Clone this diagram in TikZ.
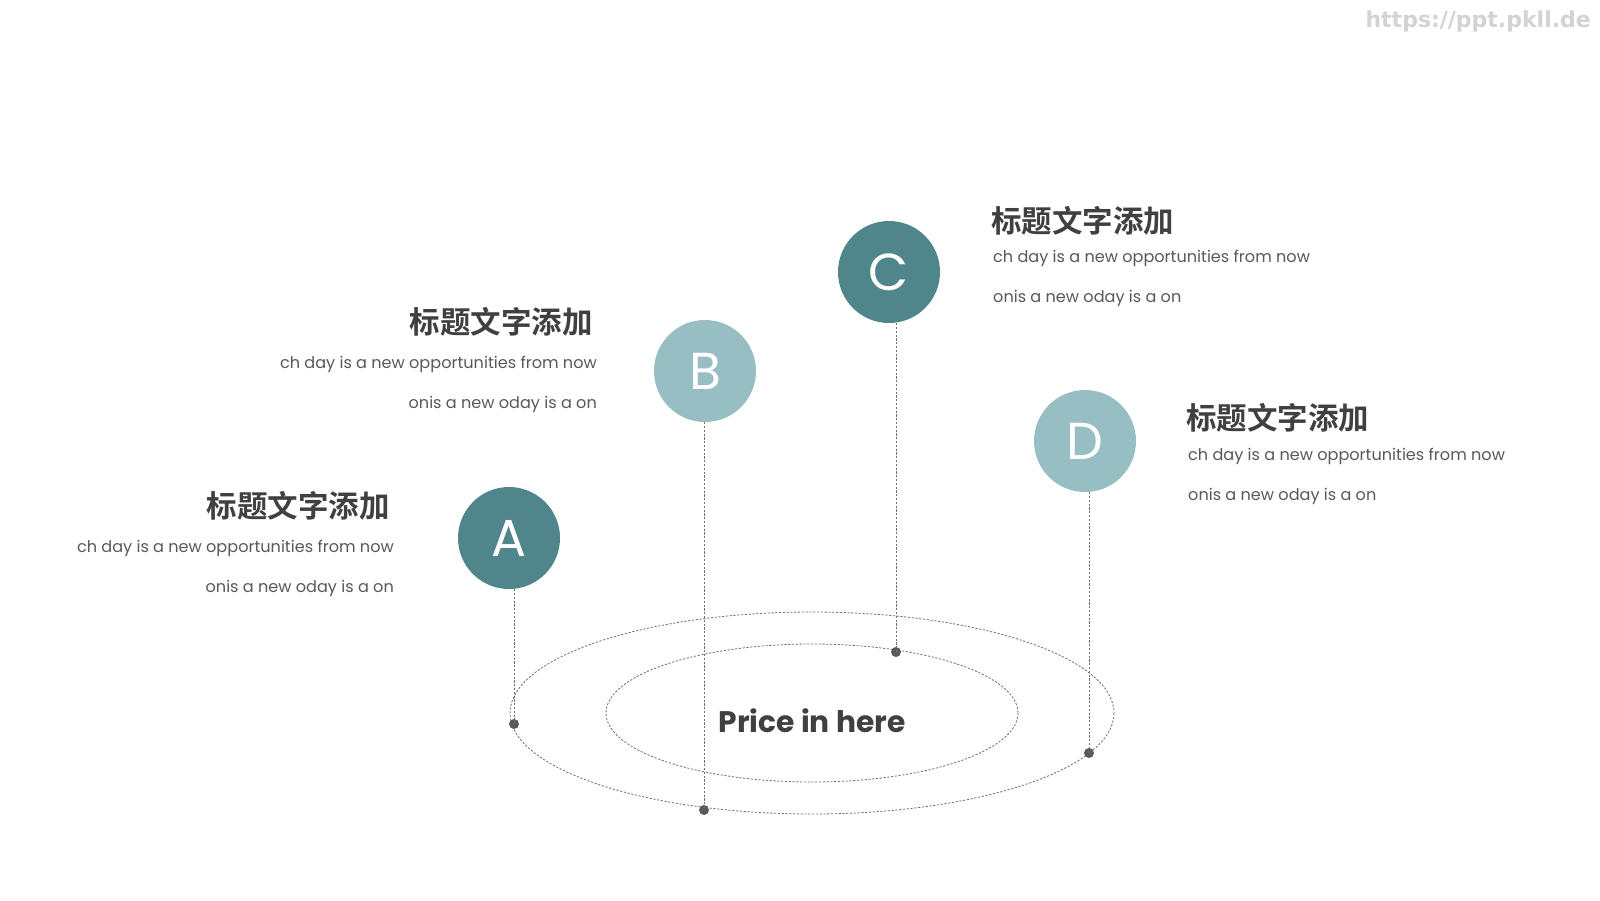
\documentclass[tikz,border=0pt]{standalone}
\usepackage{fontspec}
\setmainfont{Poppins}
\newfontfamily\cjk{Noto Sans CJK SC}[BoldFont=* Bold]
\newfontfamily\wmfont{DejaVu Sans}
\definecolor{tealdark}{HTML}{50868B}
\definecolor{teallight}{HTML}{97BFC3}
\definecolor{txt}{HTML}{404040}
\definecolor{bodytxt}{HTML}{595959}
\definecolor{guide}{HTML}{707070}
\definecolor{dotc}{HTML}{5A5A5A}
\definecolor{wm}{HTML}{D3D3D3}
\begin{document}
\begin{tikzpicture}[x=1pt,y=-1pt,
  bubble/.style={circle,minimum size=102pt,inner sep=0pt,text=white,font=\fontsize{52}{52}\selectfont},
  titletxt/.style={inner sep=0pt,text=txt,font=\cjk\bfseries\fontsize{30.5}{32}\selectfont},
  bodytext/.style={inner sep=0pt,text=bodytxt,font=\fontsize{16.1}{18}\selectfont},
  guideline/.style={draw=guide,line width=0.8pt,dash pattern=on 2.2pt off 1.6pt},
  pin/.style={circle,fill=dotc,minimum size=10pt,inner sep=0pt}]
\useasboundingbox (0,0) rectangle (1600,900);
\fill[white] (0,0) rectangle (1600,900);
% watermark
\node[anchor=east,inner sep=0pt,text=wm,font=\wmfont\bfseries\fontsize{22}{24}\selectfont] (wmk) at (1591,21) {https://ppt.pkll.de};
% ellipses
\coordinate (O) at (812,713);
\draw[guideline] (O) ellipse [x radius=302,y radius=101];
\draw[guideline] (O) ellipse [x radius=206,y radius=69];
\node[inner sep=0pt,text=txt,font=\bfseries\fontsize{29.7}{32}\selectfont] (price) at (812,721) {Price in here};
% bubbles
\node[bubble,fill=tealdark] (A) at (509,538) {A};
\node[bubble,fill=teallight] (B) at (705,371) {B};
\node[bubble,fill=tealdark] (C) at (889,272) {C};
\node[bubble,fill=teallight] (D) at (1085,441) {D};
% pins
\node[pin] (pA) at (514,724) {};
\node[pin] (pB) at (704,810) {};
\node[pin] (pC) at (896,652) {};
\node[pin] (pD) at (1089,753) {};
\draw[guideline] (pA |- A.south) -- (pA.center);
\draw[guideline] (pB |- B.south) -- (pB.center);
\draw[guideline] (pC |- C.south) -- (pC.center);
\draw[guideline] (pD |- D.south) -- (pD.center);
% texts A
\node[titletxt,anchor=east] (tA) at (390,506) {标题文字添加};
\node[bodytext,anchor=east] (a1) at (394,548) {ch day is a new opportunities from now};
\node[bodytext,anchor=east] (a2) at (394,588) {onis a new oday is a on};
% texts B
\node[titletxt,anchor=east] (tB) at (593,322) {标题文字添加};
\node[bodytext,anchor=east] (b1) at (597,364) {ch day is a new opportunities from now};
\node[bodytext,anchor=east] (b2) at (597,404) {onis a new oday is a on};
% texts C
\node[titletxt,anchor=west] (tC) at (991,221) {标题文字添加};
\node[bodytext,anchor=west] (c1) at (993,258) {ch day is a new opportunities from now};
\node[bodytext,anchor=west] (c2) at (993,298) {onis a new oday is a on};
% texts D
\node[titletxt,anchor=west] (tD) at (1186,418) {标题文字添加};
\node[bodytext,anchor=west] (d1) at (1188,456) {ch day is a new opportunities from now};
\node[bodytext,anchor=west] (d2) at (1188,496) {onis a new oday is a on};
\end{tikzpicture}
\end{document}
